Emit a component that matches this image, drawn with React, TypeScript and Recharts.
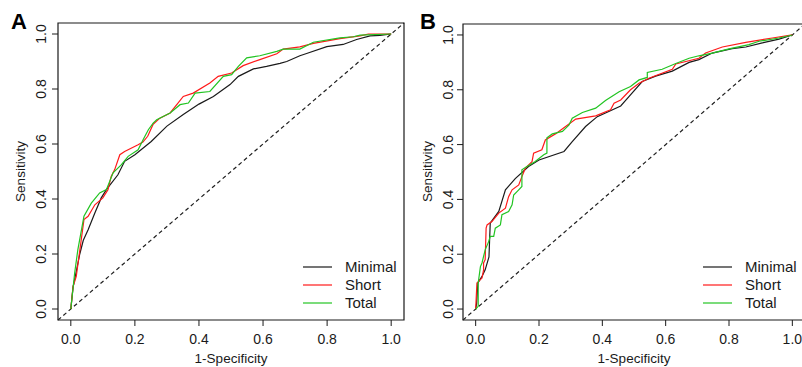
import React from "react";
import {
  LineChart,
  Line,
  XAxis,
  YAxis,
  ReferenceLine,
  ReferenceArea,
  Legend,
} from "recharts";

const FONT = '"Liberation Sans", Arial, Helvetica, sans-serif';

// shared axis / legend setup
const axisTicks = [0, 0.2, 0.4, 0.6, 0.8, 1.0];
const seriesNames = ["Minimal", "Short", "Total"];
const seriesColors = ["#1a1a1a", "#ff1a1a", "#22c422"];

// Panel A: 1-specificity (fpr) vs sensitivity (tpr)
const fprMinimalA = [0, 0.007, 0.012, 0.028, 0.039, 0.054, 0.075, 0.095, 0.111, 0.147, 0.168, 0.2, 0.251, 0.3, 0.351, 0.4, 0.445, 0.497, 0.523, 0.57, 0.611, 0.653, 0.674, 0.715, 0.736, 0.799, 0.85, 0.892, 0.934, 0.965, 1.0];
const tprMinimalA = [0, 0.08, 0.107, 0.2, 0.25, 0.288, 0.349, 0.404, 0.434, 0.488, 0.537, 0.561, 0.609, 0.665, 0.707, 0.745, 0.773, 0.816, 0.846, 0.873, 0.882, 0.893, 0.9, 0.921, 0.929, 0.954, 0.962, 0.98, 0.993, 0.995, 1.0];

const fprShortA = [0, 0.007, 0.017, 0.03, 0.041, 0.054, 0.075, 0.1, 0.116, 0.126, 0.137, 0.153, 0.168, 0.21, 0.225, 0.24, 0.257, 0.278, 0.31, 0.351, 0.382, 0.434, 0.46, 0.502, 0.538, 0.59, 0.643, 0.663, 0.715, 0.757, 0.84, 0.903, 0.929, 1.0];
const tprShortA = [0, 0.082, 0.119, 0.23, 0.325, 0.337, 0.379, 0.404, 0.434, 0.482, 0.507, 0.561, 0.573, 0.597, 0.607, 0.628, 0.672, 0.694, 0.713, 0.773, 0.785, 0.822, 0.846, 0.858, 0.885, 0.907, 0.928, 0.945, 0.953, 0.966, 0.983, 0.993, 1.0, 1.0];

const fprTotalA = [0, 0.012, 0.022, 0.041, 0.064, 0.09, 0.111, 0.132, 0.158, 0.179, 0.21, 0.226, 0.242, 0.257, 0.268, 0.31, 0.341, 0.367, 0.388, 0.434, 0.476, 0.502, 0.523, 0.549, 0.59, 0.643, 0.663, 0.715, 0.757, 0.84, 0.882, 0.903, 1.0];
const tprTotalA = [0, 0.131, 0.216, 0.337, 0.385, 0.422, 0.434, 0.495, 0.525, 0.555, 0.579, 0.616, 0.652, 0.676, 0.688, 0.713, 0.743, 0.749, 0.785, 0.791, 0.846, 0.852, 0.882, 0.913, 0.921, 0.937, 0.945, 0.945, 0.97, 0.986, 0.99, 0.996, 1.0];

// Panel B
const fprMinimalB = [0, 0.003, 0.007, 0.02, 0.03, 0.042, 0.046, 0.05, 0.073, 0.094, 0.125, 0.167, 0.2, 0.279, 0.305, 0.347, 0.384, 0.458, 0.484, 0.526, 0.568, 0.621, 0.674, 0.705, 0.747, 0.81, 0.853, 0.905, 0.958, 1.0];
const tprMinimalB = [0, 0.02, 0.095, 0.119, 0.143, 0.19, 0.313, 0.32, 0.356, 0.435, 0.476, 0.52, 0.544, 0.575, 0.611, 0.666, 0.702, 0.741, 0.775, 0.83, 0.85, 0.868, 0.9, 0.91, 0.934, 0.95, 0.956, 0.971, 0.985, 1.0];

const fprShortB = [0, 0.004, 0.02, 0.025, 0.025, 0.03, 0.033, 0.036, 0.052, 0.073, 0.094, 0.104, 0.115, 0.136, 0.146, 0.157, 0.178, 0.183, 0.209, 0.22, 0.253, 0.284, 0.316, 0.379, 0.426, 0.437, 0.458, 0.489, 0.516, 0.547, 0.621, 0.632, 0.705, 0.726, 0.779, 0.853, 0.937, 1.0];
const tprShortB = [0, 0.095, 0.113, 0.143, 0.168, 0.18, 0.295, 0.307, 0.32, 0.35, 0.368, 0.41, 0.435, 0.453, 0.483, 0.514, 0.538, 0.569, 0.581, 0.617, 0.64, 0.666, 0.693, 0.705, 0.727, 0.751, 0.763, 0.8, 0.824, 0.842, 0.875, 0.894, 0.915, 0.934, 0.956, 0.973, 0.989, 1.0];

const fprTotalB = [0, 0.008, 0.008, 0.015, 0.02, 0.025, 0.03, 0.041, 0.046, 0.057, 0.062, 0.078, 0.083, 0.104, 0.115, 0.12, 0.136, 0.146, 0.146, 0.162, 0.188, 0.215, 0.225, 0.225, 0.242, 0.274, 0.295, 0.305, 0.337, 0.379, 0.41, 0.453, 0.489, 0.516, 0.542, 0.542, 0.589, 0.632, 0.674, 0.705, 0.747, 0.8, 0.863, 0.895, 0.958, 1.0];
const tprTotalB = [0, 0.01, 0.095, 0.155, 0.168, 0.192, 0.216, 0.246, 0.265, 0.265, 0.295, 0.307, 0.344, 0.356, 0.38, 0.416, 0.435, 0.447, 0.508, 0.52, 0.538, 0.563, 0.569, 0.625, 0.639, 0.648, 0.672, 0.696, 0.717, 0.733, 0.761, 0.793, 0.812, 0.836, 0.845, 0.863, 0.875, 0.896, 0.915, 0.924, 0.934, 0.949, 0.965, 0.977, 0.989, 1.0];

const toPoints = (fpr: number[], tpr: number[]) =>
  fpr.map((x, i) => ({ x, y: tpr[i] }));

const LO = -0.04;
const HI = 1.04;

interface PanelProps {
  letter: string;
  left: number;
  width: number;
  top: number;
  right: number;
  yTickX: number;
  yTitleX: number;
  legendLeft: number;
  curves: { x: number; y: number }[][];
}

function LegendBox() {
  return (
    <svg width={110} height={60}>
      {seriesNames.map((name, i) => (
        <g key={name}>
          <line x1={3} x2={32} y1={12 + i * 18} y2={12 + i * 18} stroke={seriesColors[i]} strokeWidth={1.2} />
          <text x={45} y={17.4 + i * 18} fontSize={15} fontFamily={FONT} fill="#1a1a1a">
            {name}
          </text>
        </g>
      ))}
    </svg>
  );
}

function RocPanel({ letter, left, width, top, right, yTickX, yTitleX, legendLeft, curves }: PanelProps) {
  const XTick = ({ x, payload }: any) => (
    <text x={x} y={344} textAnchor="middle" fontSize={14} fontFamily={FONT} fill="#1a1a1a">
      {Number(payload.value).toFixed(1)}
    </text>
  );
  const YTick = ({ y, payload }: any) => (
    <text
      x={yTickX}
      y={y}
      transform={`rotate(-90, ${yTickX}, ${y})`}
      textAnchor="middle"
      fontSize={14}
      fontFamily={FONT}
      fill="#1a1a1a"
    >
      {Number(payload.value).toFixed(1)}
    </text>
  );

  return (
    <div style={{ position: "absolute", left, top: 0 }}>
      <LineChart width={width} height={367} margin={{ top, right, bottom: 0, left: 0 }}>
        <XAxis
          type="number"
          dataKey="x"
          domain={[LO, HI]}
          ticks={axisTicks}
          allowDataOverflow
          height={47}
          axisLine={false}
          tickLine={{ stroke: "#1a1a1a" }}
          tickSize={6}
          tick={<XTick />}
          label={(p: any) => {
            const vb = p.viewBox || {};
            const cx = (vb.x || 0) + (vb.width || 0) / 2;
            return (
              <text x={cx} y={363} textAnchor="middle" fontSize={13.5} fontFamily={FONT} fill="#1a1a1a">
                1-Specificity
              </text>
            );
          }}
        />
        <YAxis
          type="number"
          dataKey="y"
          domain={[LO, HI]}
          ticks={axisTicks}
          allowDataOverflow
          width={58}
          axisLine={false}
          tickLine={{ stroke: "#1a1a1a" }}
          tickSize={6}
          tick={<YTick />}
          label={() => (
            <text
              x={yTitleX}
              y={171.5}
              transform={`rotate(-90, ${yTitleX}, 171.5)`}
              textAnchor="middle"
              fontSize={13.5}
              fontFamily={FONT}
              fill="#1a1a1a"
            >
              Sensitivity
            </text>
          )}
        />
        <ReferenceArea
          x1={LO}
          x2={HI}
          y1={LO}
          y2={HI}
          fill="none"
          fillOpacity={0}
          stroke="#1a1a1a"
          strokeWidth={1.2}
          ifOverflow="visible"
        />
        <ReferenceLine
          segment={[
            { x: LO, y: LO },
            { x: HI, y: HI },
          ]}
          stroke="#1f1f1f"
          strokeWidth={1.2}
          strokeDasharray="4 3"
          ifOverflow="visible"
        />
        {curves.map((pts, i) => (
          <Line
            key={seriesNames[i]}
            data={pts}
            dataKey="y"
            name={seriesNames[i]}
            type="linear"
            stroke={seriesColors[i]}
            strokeWidth={1.2}
            dot={false}
            activeDot={false}
            isAnimationActive={false}
          />
        ))}
        <Legend
          layout="vertical"
          align="center"
          verticalAlign="middle"
          wrapperStyle={{ left: legendLeft, top: 255, width: 110, height: 60 }}
          content={() => <LegendBox />}
        />
      </LineChart>
      <div
        style={{
          position: "absolute",
          left: letter === "A" ? 11 : 420 - left,
          top: 11.4,
          fontFamily: FONT,
          fontWeight: 700,
          fontSize: 22,
          lineHeight: "22px",
          color: "#000",
        }}
      >
        {letter}
      </div>
    </div>
  );
}

export default function App() {
  return (
    <div
      style={{
        position: "absolute",
        left: 0,
        top: 0,
        width: 802,
        height: 367,
        overflow: "hidden",
        background: "#fff",
      }}
    >
      <RocPanel
        letter="A"
        left={0}
        width={405}
        top={23}
        right={1}
        yTickX={46}
        yTitleX={24.5}
        legendLeft={300}
        curves={[
          toPoints(fprMinimalA, tprMinimalA),
          toPoints(fprShortA, tprShortA),
          toPoints(fprTotalA, tprTotalA),
        ]}
      />
      <RocPanel
        letter="B"
        left={405}
        width={402}
        top={24}
        right={2}
        yTickX={48}
        yTitleX={27}
        legendLeft={295}
        curves={[
          toPoints(fprMinimalB, tprMinimalB),
          toPoints(fprShortB, tprShortB),
          toPoints(fprTotalB, tprTotalB),
        ]}
      />
    </div>
  );
}
